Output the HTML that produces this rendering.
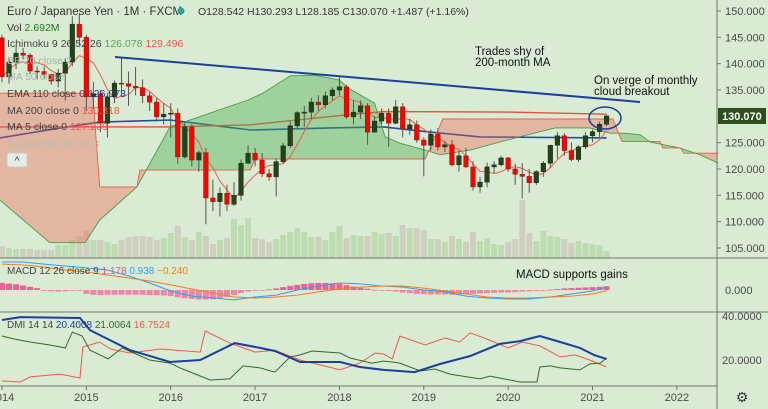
<!DOCTYPE html>
<html><head><meta charset="utf-8"><style>
html,body{margin:0;padding:0;background:#daebd3;}
svg{display:block;font-family:"Liberation Sans","DejaVu Sans",sans-serif;}
</style></head><body>
<svg id="chart" width="768" height="409" viewBox="0 0 768 409" xmlns="http://www.w3.org/2000/svg">
<rect x="0" y="0" width="768" height="409" fill="#daebd3"/>
<g id="vol"></g>
<g id="lines"></g>
<g id="cloud"></g>
<g id="ma5"></g>
<g id="candles"></g>
<g id="macd"></g>
<g id="dmi"></g>
<g id="axes"></g>
<g id="annot"></g>
<g id="legend"></g>
</svg>
<script>
// ---------- DATA ----------
const startYear = 2014;
const firstOpen = 144.9;
const closes = [137.5,140.3,142.0,141.6,138.6,138.5,138.0,136.7,138.2,140.3,147.5,145.0,
133.7,134.3,128.7,133.7,136.3,136.2,135.7,135.4,133.9,132.7,129.9,130.4,
130.6,122.3,128.0,121.7,123.1,114.5,113.8,115.4,113.3,115.0,121.1,123.0,
121.7,119.1,118.5,121.4,124.4,128.2,130.7,130.8,132.7,132.2,133.9,135.0,
135.6,129.9,130.8,132.0,127.0,129.1,130.6,128.7,131.8,127.6,128.4,125.5,
124.5,126.6,124.2,124.6,120.8,122.5,120.4,116.6,117.5,120.4,120.8,122.1,
120.0,119.0,118.6,117.4,119.5,121.1,124.5,126.3,123.5,121.8,124.2,126.3,
127.1,128.5,130.07];
const highs = [145.5,141,143.5,143,142,139.5,139.5,138,139,141,149,149.5,
145.5,136.5,135,134.5,136.8,141,138.5,139.4,137,134.6,133.5,132.5,
132.5,131.5,129,128.5,123.5,124,118,116.5,117,117.5,121.8,124.5,
124,123,120,122,125,129,131,132,133.5,134,134.7,135.5,
137.5,136,133,133,132.5,130,131.5,131.5,133.1,132.5,129.5,129.2,
126,127.5,127.7,125.3,125.5,123.5,124,121.5,118.5,121.2,121.5,122.5,
122.3,121,121.1,120,119.8,121.5,124.6,127,126.8,125,124.5,127,
127.5,129,130.3];
const lows = [136.5,136.2,139,140.8,138,137,137.2,136,135.5,133,139.5,143.5,
131,131.5,127,126,132.5,134,132,134,132.5,131,129,128.5,
126,121,122,120.5,119.5,109.5,112,111,112,113,114,121,
120.5,118.5,117.8,114.8,121,124,127.5,128,129.5,131,131.5,133,
134,129.5,128.5,129.5,124.6,127,128.5,124.2,128.5,126,126.5,125,
118.6,123.5,123.5,123.2,120.5,119.5,120.2,115.9,115.5,116.5,119.2,120.5,
119.5,117,114.4,115.5,117,118.5,120.2,122,122.5,121.5,121.3,123.8,
125.1,125.8,128.2];
const volumes = [12,10,9,9,9,8,8,8,13,13,18,22,28,18,18,16,14,18,21,22,22,21,18,20,
25,32,21,18,26,22,14,18,20,39,33,40,20,19,16,19,23,26,30,26,21,21,18,26,
32,20,23,22,22,26,24,25,22,33,30,30,28,19,19,16,22,19,16,26,17,20,14,13,
16,19,58,25,17,27,22,21,19,15,17,15,14,13,7];
// Ichimoku spans (month index, price)
const spanBMonths = [-0.3,12.9,13.9,19.2,19.6,35.3,36,58,60.2,62.7,86.9,88.2,93.6,94,96.5,97,101.9];
const spanBValues = [134.4,134.4,116.6,116.6,119.8,119.8,121.9,121.9,121.9,129.5,129.5,125.2,125.2,124.0,124.0,123.0,123.0];
const spanAMonths = [-0.3,6.8,11.8,13.9,19.2,23.9,35,37.1,41,44.5,48,49.2,53,54.5,56.6,60.2,62.3,66.6,73,78.7,83.6,86.5,88.6,90.8,92.2,96.4,99.3,101.9];
const spanAValues = [114.1,106,106,110.3,116.6,128,133.1,134.4,137.7,137.8,136.9,135.4,132.5,126.1,124.9,123.6,122.7,123.6,125.9,127.8,127.8,126.8,126.8,126.5,125.1,124,122.7,121.1];
// EMA 110 and MA 200 (month index, price)
const emaMonths = [-0.3,8.3,13.9,23.9,35.3,46.7,54.3,60.9,68,86];
const emaValues = [125.9,127.8,128.9,129.3,127.4,127.8,128,127,126.1,125.9];
const ma200Months = [-0.3,23.9,35.3,49.1,54.3,72,86];
const ma200Values = [128,128,128.4,130.3,130.9,130.8,130.4];
// MACD
const macdMonths = [0,3,6,9,12,15,18,21,24,27,30,33,36,39,42,45,48,51,54,57,60,63,66,69,72,75,78,81,84,86];
const macdValues = [8.75,8.75,8.1,7.5,6.9,6.25,4.4,2.2,-0.3,-1.9,-2.5,-3.1,-2.2,-1.6,0,1.25,2.2,1.9,1.25,0.9,0,-0.6,-1.9,-2.5,-2.8,-2.8,-2.2,-1.25,-0.3,0.938];
const signalValues = [8.1,7.8,7.2,6.25,5.6,4.7,3.75,2.8,1.6,0.3,-0.9,-2.2,-2.5,-2.2,-1.6,-0.6,0.3,0.9,1.25,1.25,0.6,-0.3,-1.25,-2.2,-2.5,-2.5,-2.2,-1.9,-1.25,-0.24];
const histValues = [2.2,2.0,1.8,1.4,1.0,0.6,-0.3,-0.4,-0.5,-0.4,-0.2,-0.1,
-1.2,-1.5,-1.6,-1.5,-1.5,-1.5,-1.5,-1.5,-1.5,-1.6,-1.6,-1.7,-1.9,
-2.3,-2.6,-2.8,-3.0,-3.0,-2.9,-2.6,-2.2,-1.6,-0.9,
-0.5,-0.3,-0.1,0.2,0.5,
0.9,1.3,1.6,1.9,2.1,2.2,2.2,2.1,1.9,1.5,1.1,0.7,0.4,
0.1,-0.1,-0.3,-0.5,-0.8,-1.0,-1.2,-1.3,
-1.4,-1.4,-1.4,-1.5,-1.4,-1.3,-1.2,-1.1,-1.0,-0.9,-0.8,-0.8,-0.7,
-0.5,-0.4,-0.3,-0.2,0.1,0.3,
0.5,0.6,0.7,0.8,0.9,1.0,1.178];
// DMI
const adxMonths = [0,2.6,11.1,12.5,18.2,23.9,28.2,33.1,36.7,38.8,42.4,48.1,50.9,54.3,58.7,62.3,66.6,70.8,73.7,76.5,79.4,82.2,84.2,86];
const adxValues = [38.2,39.5,39.1,33.6,24.5,19.1,20,27.7,25.5,24.1,19.1,19.1,16.8,15.5,14.5,18.2,21.8,27.3,28.6,30.9,28.2,25.5,22.3,20.4];
const minusDiMonths = [0,2.6,4,8.3,11.1,11.5,13.9,15.4,18.2,22.5,28.2,28.9,32.4,36,38.8,42.4,48.1,50.9,53.1,54.3,55.5,56.6,60.2,63,65.1,66.6,68.6,72,74,76.5,79.4,81.5,83.6,86];
const minusDiValues = [10.5,10,12.3,13.6,11.8,25.9,28.2,25,23.2,25,23.6,33.2,27.7,23.6,24.5,20,15.5,18.6,23.2,22.7,20.5,30.9,26.8,30,28.2,32.3,30,25.5,28.2,26.4,21.4,22.3,20,16.8];
const plusDiMonths = [0,1.8,4,6.8,9,10,11.4,12.5,15.1,17.1,21,23.9,25.3,29.6,32.4,34.3,36.7,38.8,41,42.4,44.1,48.1,49.5,52.6,54.3,55.5,56.6,59.5,61.6,63.7,68,69.4,70.8,73.7,76.1,76.5,78,79.4,82.2,83.6,85.1,86];
const plusDiValues = [30.9,29.5,28.2,26.8,25.5,32.7,30.9,24.5,20.5,25.5,20,18.6,16.4,10.9,11.4,17.3,16.4,14.5,21.4,22.3,24.1,23.2,20.9,18.6,19.5,19.1,18.6,15,15.9,13.6,11.4,12.7,11.8,10,10,16.8,17.3,16.4,15.5,18.2,18.6,21.0];
const priceTicks = [150,145,140,135,125,120,115,110,105];
const yearLabels = ["2014","2015","2016","2017","2018","2019","2020","2021","2022"];

// ---------- SCALES ----------
const NS="http://www.w3.org/2000/svg";
function X(i){return 2+7.03*i;}
function Y(p){return 11+(150-p)*5.2667;}
function YM(v){return 290-v*3.2;}
function YD(v){return 360-(v-20)*2.2;}
function el(tag,parent,attrs){const e=document.createElementNS(NS,tag);for(const k in attrs)e.setAttribute(k,attrs[k]);document.getElementById(parent).appendChild(e);return e;}
function ptsStr(ms,vs,fx,fy){return ms.map((m,k)=>fx(m).toFixed(1)+","+fy(vs[k]).toFixed(1)).join(" ");}
function interp(ms,vs,m){if(m<=ms[0])return vs[0];for(let k=1;k<ms.length;k++){if(m<=ms[k]){const t=(m-ms[k-1])/(ms[k]-ms[k-1]);return vs[k-1]+t*(vs[k]-vs[k-1]);}}return vs[vs.length-1];}
const opens = closes.map((c,i)=>i===0?firstOpen:closes[i-1]);

// ---------- VOLUME ----------
const vmax=Math.max(...volumes);
volumes.forEach((v,i)=>{
  const h=v/vmax*58;
  const r=el("rect","vol",{x:X(i)-3,y:258-h,width:6,height:h,fill:closes[i]>=opens[i]?"#bedcb2":"#cfcfbf"});
  
  
});

// ---------- EMA / MA200 ----------
const ema=el("polyline","lines",{points:ptsStr(emaMonths,emaValues,X,Y),fill:"none",stroke:"#1f4aa0",'stroke-width':1.6});


const ma200=el("polyline","lines",{points:ptsStr(ma200Months,ma200Values,X,Y),fill:"none",stroke:"#ef4a3c",'stroke-width':1.4});



// ---------- CLOUD ----------
(function(){
  let run=null;const runs=[];
  for(let px=0;px<=717;px++){
    const m=(px-2)/7.03;
    const a=interp(spanAMonths,spanAValues,m), b=interp(spanBMonths,spanBValues,m);
    const s=a>=b;
    if(!run||run.s!==s){run={s:s,pts:[]};runs.push(run);}
    run.pts.push([px,Y(a),Y(b)]);
  }
  runs.forEach(r=>{
    const top=r.pts.map(p=>p[0]+","+p[1].toFixed(1)).join(" ");
    const bot=r.pts.slice().reverse().map(p=>p[0]+","+p[2].toFixed(1)).join(" ");
    const poly=el("polygon","cloud",{points:top+" "+bot,fill:r.s?"#4caf50":"#f0624e",'fill-opacity':r.s?0.42:0.38});
    
    
  });
  const la=el("polyline","cloud",{points:ptsStr(spanAMonths,spanAValues,X,Y),fill:"none",stroke:"#43a047",'stroke-width':0.9});
  
  
  const lb=el("polyline","cloud",{points:ptsStr(spanBMonths,spanBValues,X,Y),fill:"none",stroke:"#f05a4a",'stroke-width':0.9});
  
  
})();

// ---------- MA5 ----------
(function(){
  const ms=[],vs=[];
  closes.forEach((c,i)=>{const s=closes.slice(Math.max(0,i-4),i+1);ms.push(i);vs.push(s.reduce((a,b)=>a+b,0)/s.length);});
  const l=el("polyline","ma5",{points:ptsStr(ms,vs,X,Y),fill:"none",stroke:"#f05a4a",'stroke-width':1});
  
  
})();

// ---------- CANDLES ----------
closes.forEach((c,i)=>{
  const o=opens[i],up=c>=o,x=X(i);
  const w=el("line","candles",{x1:x,x2:x,y1:Y(highs[i]),y2:Y(lows[i]),stroke:"#555",'stroke-width':1});
  
  
  const yt=Y(Math.max(o,c)),yb=Y(Math.min(o,c));
  const b=el("rect","candles",{x:x-2.3,y:yt,width:4.6,height:Math.max(1,yb-yt),fill:up?"#25421a":"#ff0000",stroke:up?"#1a2e12":"#8a1a10",'stroke-width':0.5});
  
  
});

// ---------- MACD ----------
histValues.forEach((v,i)=>{
  const y0=YM(0),y1=YM(v);
  const r=el("rect","macd",{x:X(i)-3,y:Math.min(y0,y1),width:6,height:Math.max(0.8,Math.abs(y1-y0)),fill:v>=0?"#f2528c":"#f27aa3",'fill-opacity':0.9});
  
  
});
const macdL=el("polyline","macd",{points:ptsStr(macdMonths,macdValues,X,YM),fill:"none",stroke:"#2f9ff0",'stroke-width':1});


const sigL=el("polyline","macd",{points:ptsStr(macdMonths,signalValues,X,YM),fill:"none",stroke:"#f57c1f",'stroke-width':1});



// ---------- DMI ----------
const mdi=el("polyline","dmi",{points:ptsStr(minusDiMonths,minusDiValues,X,YD),fill:"none",stroke:"#f05a4a",'stroke-width':1});


const pdi=el("polyline","dmi",{points:ptsStr(plusDiMonths,plusDiValues,X,YD),fill:"none",stroke:"#2e6b2a",'stroke-width':1});


const adx=el("polyline","dmi",{points:ptsStr(adxMonths,adxValues,X,YD),fill:"none",stroke:"#1a3f9e",'stroke-width':2});



// ---------- AXES ----------
[[0,258,717,258],[0,312,717,312],[0,386,717,386],[717,0,717,409],[717,258,768,258],[717,312,768,312]].forEach(s=>{
  const l=el("line","axes",{x1:s[0],y1:s[1],x2:s[2],y2:s[3],stroke:"#6f766c",'stroke-width':1});
  
  
});
priceTicks.forEach(p=>{
  const t=el("text","axes",{x:725,y:Y(p)+4,'font-size':11,fill:"#4a4a4a"});
  t.textContent=p.toFixed(3);
  
  
  const k=el("line","axes",{x1:717,x2:721,y1:Y(p),y2:Y(p),stroke:"#6f766c"});
  
  
});
const lastBox=el("rect","axes",{x:718,y:Y(closes[closes.length-1])-8,width:48,height:16,fill:"#2c4f1c"});


const lastTxt=el("text","axes",{x:722,y:Y(closes[closes.length-1])+4,'font-size':11,'font-weight':'bold',fill:"#ffffff"});
lastTxt.textContent=closes[closes.length-1].toFixed(3);


const z=el("text","axes",{x:725,y:YM(0)+4,'font-size':11,fill:"#4a4a4a"});
z.textContent="0.000";


[40,20].forEach(v=>{
  const t=el("text","axes",{x:722,y:YD(v)+4,'font-size':11,fill:"#4a4a4a"});
  t.textContent=v.toFixed(4);
  
  
});
yearLabels.forEach((yl,k)=>{
  const x=X(k*12);
  const t=el("text","axes",{x:x,y:401,'font-size':11,fill:"#4a4a4a",'text-anchor':'middle'});
  t.textContent=yl;
  
  
  const tk=el("line","axes",{x1:x,x2:x,y1:386,y2:390,stroke:"#6f766c"});
  
  
});
const gear=el("text","axes",{x:742,y:402,'font-size':14,fill:"#333",'text-anchor':'middle'});
gear.textContent="⚙";



// ---------- ANNOTATIONS ----------
const tl=el("line","annot",{x1:115,y1:57,x2:640,y2:102,stroke:"#1a3f9e",'stroke-width':2});


const ell=el("ellipse","annot",{cx:605,cy:118,rx:16,ry:11,fill:"none",stroke:"#1a3f9e",'stroke-width':1.5});


[["Trades shy of",475,55],["200-month MA",475,66],["On verge of monthly",594,84],["cloud breakout",594,95],["MACD supports gains",516,278]].forEach(a=>{
  const t=el("text","annot",{x:a[1],y:a[2],'font-size':11.5,fill:"#111"});
  t.textContent=a[0];
  
  
});

// ---------- LEGEND ----------
function leg(parts,x,y,size,name){
  const t=el("text","legend",{x:x,y:y,'font-size':size});
  parts.forEach(p=>{const s=document.createElementNS(NS,"tspan");s.setAttribute("fill",p[1]);s.textContent=p[0];t.appendChild(s);});
  
  
}
leg([["Euro / Japanese Yen · 1M · FXCM","#333"]],7,15,11.5,"symbol-title");
const dot=el("circle","legend",{cx:181,cy:11,r:3.5,fill:"#26a69a"});


leg([["O128.542 H130.293 L128.185 C130.070 +1.487 (+1.16%)","#333"]],198,15,10.5,"ohlc-values");
leg([["Vol  ","#333"],["2.692M","#1d7a1d"]],7,31,10.5,"volume-legend");
leg([["Ichimoku 9 26 52 26  ","#444"],["126.078  ","#4caf50"],["129.496","#f05a4a"]],7,47,10.5,"ichimoku-legend");
leg([["BB 20 close 2","#a8b3a5"]],7,64,10.5,"bb-legend");
leg([["MA 50 close","#a8b3a5"]],7,80,10.5,"ma50-legend");
leg([["EMA 110 close 0  ","#444"],["126.073","#1a3f9e"]],7,97,10.5,"ema110-legend");
leg([["MA 200 close 0  ","#444"],["130.318","#f05a4a"]],7,114,10.5,"ma200-legend");
leg([["MA 5 close 0  ","#444"],["127.239","#f05a4a"]],7,130,10.5,"ma5-legend");
leg([["Supertrend 10 hl2 3","#b8bfb4"]],7,147,10.5,"supertrend-legend");
const cb=el("rect","legend",{x:7,y:153,width:20,height:14,rx:2,fill:"#e6ece2",stroke:"#c8cfc4"});


const ct=el("text","legend",{x:17,y:164,'font-size':10,fill:'#333','text-anchor':'middle'});
ct.textContent="^";


leg([["MACD 12 26 close 9  ","#444"],["1.178  ","#f2528c"],["0.938  ","#2f9ff0"],["−0.240","#f57c1f"]],7,274,10,"macd-legend");
leg([["DMI 14 14  ","#444"],["20.4008  ","#1a3f9e"],["21.0064  ","#2e6b2a"],["16.7524","#f05a4a"]],7,328,10,"dmi-legend");
</script>
</body></html>
